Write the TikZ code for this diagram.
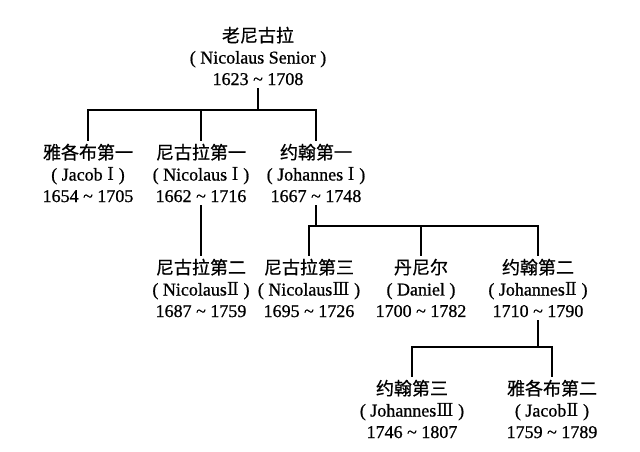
\documentclass[tikz,border=0pt]{standalone}
\usepackage{fontspec}
\setmainfont{Liberation Serif}[FakeBold=0.8]
\newfontfamily\cjk{Noto Sans CJK SC}[FakeBold=0.6]
\newfontfamily\romanfont{DejaVu Serif}
\usetikzlibrary{positioning}
\tikzset{
  person/.style={align=center, inner sep=3pt, font=\fontsize{18}{21.5}\selectfont},
  link/.style={line width=1.4pt, black}
}
\newcommand{\rn}[1]{{\romanfont #1}}

\begin{document}
\begin{tikzpicture}[x=1pt,y=-1pt]
\useasboundingbox (0,0) rectangle (640,451);
\fill[white] (0,0) rectangle (640,451);

% family members
\foreach \id/\x/\y/\cn/\en/\yr in {
  senior/258/56/老尼古拉/Nicolaus Senior/1623 \textasciitilde{} 1708,
  jacobI/88/173/雅各布第一/Jacob \rn{Ⅰ}/1654 \textasciitilde{} 1705,
  nicolausI/201/173/尼古拉第一/Nicolaus \rn{Ⅰ}/1662 \textasciitilde{} 1716,
  johannesI/316/173/约翰第一/Johannes \rn{Ⅰ}/1667 \textasciitilde{} 1748,
  nicolausII/201/288/尼古拉第二/Nicolaus\rn{Ⅱ}/1687 \textasciitilde{} 1759,
  nicolausIII/309/288/尼古拉第三/Nicolaus\rn{Ⅲ}/1695 \textasciitilde{} 1726,
  daniel/421/288/丹尼尔/Daniel/1700 \textasciitilde{} 1782,
  johannesII/538/288/约翰第二/Johannes\rn{Ⅱ}/1710 \textasciitilde{} 1790,
  johannesIII/412/409/约翰第三/Johannes\rn{Ⅲ}/1746 \textasciitilde{} 1807,
  jacobII/552/409/雅各布第二/Jacob\rn{Ⅱ}/1759 \textasciitilde{} 1789}{
  \node[person] (\id) at (\x,\y) {{\cjk\cn}\\( \en{} )\\\yr};
}

% first generation
\coordinate (bar1) at (258,110);
\draw[link] (senior) -- (bar1);
\draw[link] (jacobI.north) |- (bar1) -| (johannesI.north);
\draw[link] (nicolausI) -- (nicolausI |- bar1);

% second generation
\draw[link] (nicolausI) -- (nicolausII);
\coordinate (bar2) at (316,226);
\draw[link] (johannesI) -- (bar2);
\draw[link] (nicolausIII.north) |- (bar2) -| (johannesII.north);
\draw[link] (daniel) -- (daniel |- bar2);

% third generation
\coordinate (bar3) at (538,347);
\draw[link] (johannesII) -- (bar3);
\draw[link] (johannesIII.north) |- (bar3) -| (jacobII.north);
\end{tikzpicture}
\end{document}
